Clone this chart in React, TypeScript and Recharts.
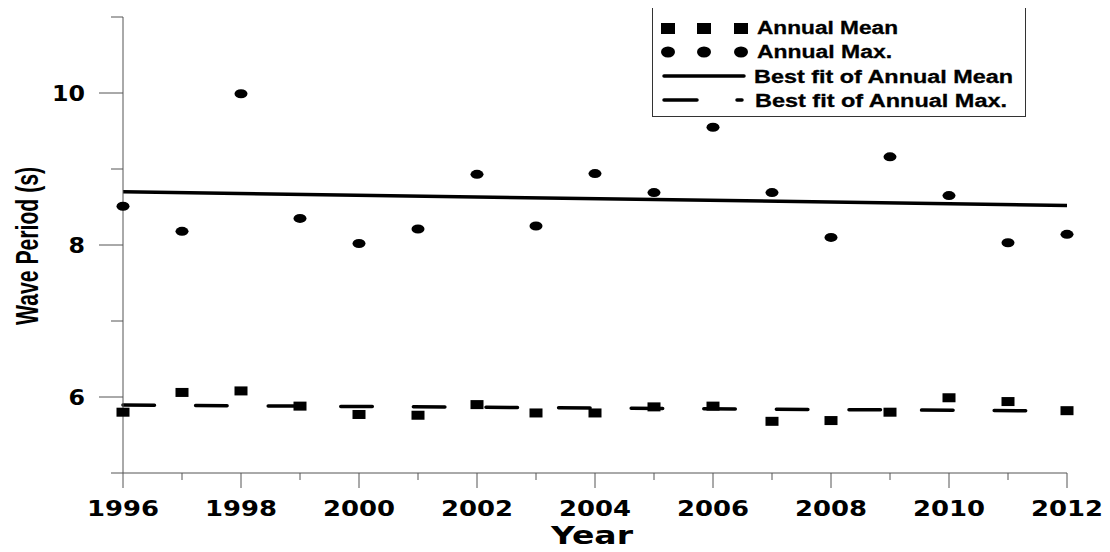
import { ComposedChart, Label, Legend, Line, Scatter, XAxis, YAxis } from "recharts";

const years = [1996, 1997, 1998, 1999, 2000, 2001, 2002, 2003, 2004, 2005, 2006, 2007, 2008, 2009, 2010, 2011, 2012];
const annualMean = [5.8, 6.06, 6.08, 5.88, 5.77, 5.76, 5.9, 5.79, 5.79, 5.87, 5.88, 5.68, 5.69, 5.8, 5.99, 5.94, 5.82];
const annualMax = [8.51, 8.18, 9.99, 8.35, 8.02, 8.21, 8.93, 8.25, 8.94, 8.69, 9.55, 8.69, 8.1, 9.16, 8.65, 8.03, 8.14];
const fitYears = [1996, 2012];
const fitMean = [5.895, 5.815];
const fitMax = [8.7, 8.52];
const yTicks = [5, 6, 7, 8, 9, 10, 11];

const meanData = years.map((year, i) => ({ year, value: annualMean[i] }));
const maxData = years.map((year, i) => ({ year, value: annualMax[i] }));
const fitMeanData = fitYears.map((year, i) => ({ year, value: fitMean[i] }));
const fitMaxData = fitYears.map((year, i) => ({ year, value: fitMax[i] }));

const AXIS = "#555";
const WIDE = "DejaVu Sans, Verdana, sans-serif";
const ARIAL = "Liberation Sans, Arial, sans-serif";

function XTick(props: any) {
  const { x, y, payload } = props;
  const major = payload.value % 2 === 0;
  return (
    <g>
      <line x1={x} x2={x} y1={y} y2={y + (major ? 15 : 7)} stroke={AXIS} />
      {major && (
        <text x={x} y={y + 43} textAnchor="middle" fontFamily={WIDE} fontWeight="bold" fontSize={21}
          textLength={72} lengthAdjust="spacingAndGlyphs" fill="#000">
          {payload.value}
        </text>
      )}
    </g>
  );
}

function YTick(props: any) {
  const { x, y, payload } = props;
  const major = payload.value % 2 === 0;
  const label = String(payload.value);
  return (
    <g>
      <line x1={x - (major ? 24 : 12)} x2={x} y1={y} y2={y} stroke={AXIS} />
      {major && (
        <text x={x - 38} y={y + 8} textAnchor="end" fontFamily={WIDE} fontWeight="bold" fontSize={22}
          textLength={label.length * 16.5} lengthAdjust="spacingAndGlyphs" fill="#000">
          {label}
        </text>
      )}
    </g>
  );
}

function YearLabel(props: any) {
  const { viewBox } = props;
  const cx = viewBox.x + viewBox.width / 2 - 3;
  return (
    <text x={cx} y={544} textAnchor="middle" fontFamily={WIDE} fontWeight="bold" fontSize={25}
      textLength={82} lengthAdjust="spacingAndGlyphs" fill="#000">
      Year
    </text>
  );
}

function PeriodLabel() {
  return (
    <text x={38} y={246} transform="rotate(-90, 38, 246)" textAnchor="middle" fontFamily={ARIAL}
      fontWeight="bold" fontSize={32} textLength={158} lengthAdjust="spacingAndGlyphs" fill="#000">
      Wave Period (s)
    </text>
  );
}

const square = (p: any) => <rect x={p.cx - 6.5} y={p.cy - 4.5} width={13} height={9} fill="#000" />;
const dot = (p: any) => <ellipse cx={p.cx} cy={p.cy} rx={6.5} ry={4.5} fill="#000" />;

function LegendBox() {
  const txt = (x: number, y: number, len: number, s: string) => (
    <text x={x} y={y} fontFamily={ARIAL} fontWeight="bold" fontSize={18} textLength={len}
      lengthAdjust="spacingAndGlyphs" fill="#000" stroke="#000" strokeWidth={0.3}>
      {s}
    </text>
  );
  return (
    <div style={{ width: 374, height: 112, border: "1px solid #333", boxSizing: "border-box", background: "#fff" }}>
      <svg width={372} height={110} style={{ display: "block" }}>
        {[15, 51, 88].map((cx) => (
          <rect key={cx} x={cx - 7} y={17} width={14} height={11} fill="#000" />
        ))}
        {txt(104, 28, 141, "Annual Mean")}
        {[15, 51, 88].map((cx) => (
          <ellipse key={cx} cx={cx} cy={46} rx={7} ry={5.5} fill="#000" />
        ))}
        {txt(104, 52, 135, "Annual Max.")}
        <line x1={11} x2={91} y1={70} y2={70} stroke="#000" strokeWidth={3.5} strokeLinecap="round" />
        {txt(101, 77, 259, "Best fit of Annual Mean")}
        <line x1={11} x2={44} y1={94} y2={94} stroke="#000" strokeWidth={3.5} strokeLinecap="round" />
        <line x1={84} x2={89} y1={94} y2={94} stroke="#000" strokeWidth={3.5} strokeLinecap="round" />
        {txt(102, 101, 252, "Best fit of Annual Max.")}
      </svg>
    </div>
  );
}

export default function App() {
  return (
    <div style={{ margin: -8, width: 1110, height: 552, background: "#fff" }}>
      <ComposedChart width={1110} height={552} margin={{ top: 17, right: 43, bottom: 0, left: 0 }}>
        <XAxis
          dataKey="year"
          type="number"
          domain={[1996, 2012]}
          ticks={years}
          interval={0}
          height={79}
          tickSize={0}
          tickMargin={0}
          tickLine={false}
          axisLine={{ stroke: AXIS }}
          tick={<XTick />}
        >
          <Label content={<YearLabel />} />
        </XAxis>
        <YAxis
          type="number"
          domain={[5, 11]}
          ticks={yTicks}
          interval={0}
          width={123}
          tickSize={0}
          tickMargin={0}
          tickLine={false}
          axisLine={{ stroke: AXIS }}
          tick={<YTick />}
        >
          <Label content={<PeriodLabel />} />
        </YAxis>
        <Legend layout="horizontal" verticalAlign="middle" align="center" content={<LegendBox />}
          wrapperStyle={{ left: 652, top: 5, width: 374, height: 112 }} />
        <Line data={fitMaxData} dataKey="value" name="Best fit of Annual Mean" stroke="#000" strokeWidth={3.5}
          dot={false} activeDot={false} isAnimationActive={false} />
        <Line data={fitMeanData} dataKey="value" name="Best fit of Annual Max." stroke="#000" strokeWidth={3.5}
          strokeLinecap="round" strokeDasharray="31.5 41.1" dot={false} activeDot={false} isAnimationActive={false} />
        <Scatter data={meanData} dataKey="value" name="Annual Mean" shape={square} isAnimationActive={false} />
        <Scatter data={maxData} dataKey="value" name="Annual Max." shape={dot} isAnimationActive={false} />
      </ComposedChart>
    </div>
  );
}
